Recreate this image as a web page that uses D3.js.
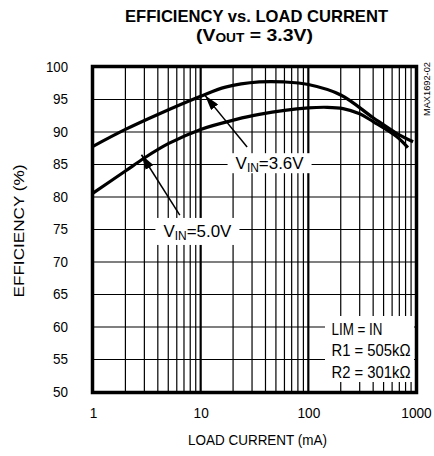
<!DOCTYPE html>
<html>
<head>
<meta charset="utf-8">
<script src="https://cdn.jsdelivr.net/npm/d3@7"></script>
<style>
  body { margin: 0; background: #fff; }
  text { font-family: "Liberation Sans", Arial, sans-serif; fill: #000; }
</style>
</head>
<body>
<div id="chart"></div>
<script>
// ---- data ----
const xTickValues = [1, 10, 100, 1000];
const yTickValues = [50, 55, 60, 65, 70, 75, 80, 85, 90, 95, 100];

// VIN = 3.6V (upper curve)
const vin36Load = [1, 2, 4, 10, 17, 35, 60, 100, 200, 400, 660, 940];
const vin36Eff  = [87.8, 90.4, 92.7, 95.5, 96.9, 97.7, 97.7, 97.3, 95.7, 92.2, 89.8, 88.5];

// VIN = 5.0V (lower curve)
const vin50Load = [1, 2, 3, 5, 10, 21, 35, 100, 150, 210, 300, 400, 660, 840];
const vin50Eff  = [80.6, 84.0, 86.0, 88.2, 90.4, 91.9, 92.7, 93.7, 93.8, 93.6, 92.8, 91.6, 89.3, 87.6];

// annotation anchors (data units): [tipX, tipY, tailX, tailY]
const arrow36 = [11, 95.6, 27, 87.7];
const arrow50 = [2.82, 86.5, 6.4, 77.2];

const notes = ["LIM = IN", "R1 = 505kΩ", "R2 = 301kΩ"];

const width = 434, height = 456;

const svg = d3.select("#chart")
    .append("svg")
    .attr("width", width)
    .attr("height", height);

const x = d3.scaleLog().domain([1, 1000]).range([93, 416]);
const y = d3.scaleLinear().domain([50, 100]).range([392, 67]);

// Titles
svg.append("text")
    .attr("x", 256.5)
    .attr("y", 21.5)
    .attr("text-anchor", "middle")
    .attr("textLength", 263)
    .attr("lengthAdjust", "spacingAndGlyphs")
    .style("font-size", "17px")
    .style("font-weight", "bold")
    .text("EFFICIENCY vs. LOAD CURRENT");

const t2 = svg.append("text")
    .attr("x", 254.5)
    .attr("y", 40.5)
    .attr("text-anchor", "middle")
    .attr("textLength", 117)
    .attr("lengthAdjust", "spacingAndGlyphs")
    .style("font-size", "17px")
    .style("font-weight", "bold");
t2.append("tspan").text("(V");
t2.append("tspan").attr("dy", 1).style("font-size", "12px").text("OUT");
t2.append("tspan").attr("dy", -1).text(" = 3.3V)");

// Grid lines
const grid = svg.append("g");
grid.selectAll(".hgrid")
    .data(yTickValues.slice(1, -1))
    .enter()
    .append("line")
    .attr("x1", x.range()[0])
    .attr("x2", x.range()[1])
    .attr("y1", d => y(d))
    .attr("y2", d => y(d))
    .attr("stroke", "#000")
    .attr("stroke-width", 1.2);

grid.selectAll(".vgrid")
    .data(x.ticks().filter(d => d > 1 && d < 1000))
    .enter()
    .append("line")
    .attr("x1", d => x(d))
    .attr("x2", d => x(d))
    .attr("y1", y.range()[1])
    .attr("y2", y.range()[0])
    .attr("stroke", "#000")
    .attr("stroke-width", d => (d === 10 || d === 100) ? 2.2 : 1.2);

// Curves
const line = d3.line()
    .x(d => x(d[0]))
    .y(d => y(d[1]))
    .curve(d3.curveCatmullRom.alpha(0.5));

[[vin36Load, vin36Eff], [vin50Load, vin50Eff]].forEach(([xs, ys]) => {
    svg.append("path")
        .attr("d", line(xs.map((v, i) => [v, ys[i]])))
        .attr("fill", "none")
        .attr("stroke", "#000")
        .attr("stroke-width", 3.2)
        .attr("stroke-linecap", "butt");
});

// Arrowheads
svg.append("defs").append("marker")
    .attr("id", "head")
    .attr("viewBox", "0 0 15 9")
    .attr("refX", 15)
    .attr("refY", 4.5)
    .attr("markerWidth", 15)
    .attr("markerHeight", 9)
    .attr("markerUnits", "userSpaceOnUse")
    .attr("orient", "auto")
    .append("path")
    .attr("d", "M0,0 L15,4.5 L0,9 Z")
    .attr("fill", "#000");

[arrow36, arrow50].forEach(a => {
    svg.append("line")
        .attr("x1", x(a[2]))
        .attr("y1", y(a[3]))
        .attr("x2", x(a[0]))
        .attr("y2", y(a[1]))
        .attr("stroke", "#000")
        .attr("stroke-width", 1.5)
        .attr("marker-end", "url(#head)");
});

// Curve labels with white boxes
function vinLabel(cx, cy, value, boxW, boxH) {
    svg.append("rect")
        .attr("x", cx - boxW / 2)
        .attr("y", cy - boxH / 2)
        .attr("width", boxW)
        .attr("height", boxH)
        .attr("fill", "#fff");
    const t = svg.append("text")
        .attr("x", cx)
        .attr("y", cy + 6)
        .attr("text-anchor", "middle")
        .attr("textLength", 68)
        .attr("lengthAdjust", "spacingAndGlyphs")
        .style("font-size", "17px");
    t.append("tspan").text("V");
    t.append("tspan").attr("dy", 3).style("font-size", "12px").text("IN");
    t.append("tspan").attr("dy", -3).text("=" + value);
}
vinLabel(x(Math.pow(10, 1.64)), y(85.2), "3.6V", 84, 20);
vinLabel(x(Math.pow(10, 0.97)), y(74.7), "5.0V", 84, 27);

// Notes box
svg.append("rect")
    .attr("x", 325)
    .attr("y", 316)
    .attr("width", 89)
    .attr("height", 66)
    .attr("fill", "#fff");
svg.selectAll(".note")
    .data(notes)
    .enter()
    .append("text")
    .attr("x", 331.5)
    .attr("y", (d, i) => 335 + i * 21.3)
    .attr("textLength", (d, i) => i === 0 ? 51 : 79)
    .attr("lengthAdjust", "spacingAndGlyphs")
    .style("font-size", "16px")
    .text(d => d);

// Frame
svg.append("rect")
    .attr("x", x.range()[0] - 0.5)
    .attr("y", y.range()[1] - 0.5)
    .attr("width", x.range()[1] - x.range()[0] + 1)
    .attr("height", y.range()[0] - y.range()[1] + 1)
    .attr("fill", "none")
    .attr("stroke", "#000")
    .attr("stroke-width", 3.5);

// Axes
const yAxis = svg.append("g")
    .attr("transform", `translate(${x.range()[0]},0)`)
    .call(d3.axisLeft(y).tickValues(yTickValues).tickSize(0).tickPadding(25));
yAxis.select(".domain").remove();
yAxis.selectAll("text")
    .attr("textLength", d => d === 100 ? 22 : 15)
    .attr("lengthAdjust", "spacingAndGlyphs")
    .style("font-family", "'Liberation Sans', Arial, sans-serif")
    .style("font-size", "14px");

const xAxis = svg.append("g")
    .attr("transform", `translate(0,${y.range()[0]})`)
    .call(d3.axisBottom(x).tickValues(xTickValues).tickFormat(d3.format("d")).tickSize(0).tickPadding(16));
xAxis.select(".domain").remove();
xAxis.selectAll("text")
    .attr("textLength", d => String(d).length * 7.6)
    .attr("lengthAdjust", "spacingAndGlyphs")
    .style("font-family", "'Liberation Sans', Arial, sans-serif")
    .style("font-size", "14px");

// Axis titles
svg.append("text")
    .attr("x", 257.5)
    .attr("y", 445)
    .attr("text-anchor", "middle")
    .attr("textLength", 139)
    .attr("lengthAdjust", "spacingAndGlyphs")
    .style("font-size", "14px")
    .text("LOAD CURRENT (mA)");

svg.append("text")
    .attr("transform", "translate(23.5,231) rotate(-90)")
    .attr("text-anchor", "middle")
    .attr("textLength", 133)
    .attr("lengthAdjust", "spacingAndGlyphs")
    .style("font-size", "14px")
    .text("EFFICIENCY (%)");

svg.append("text")
    .attr("transform", "translate(430,89) rotate(-90)")
    .attr("text-anchor", "middle")
    .attr("textLength", 54)
    .attr("lengthAdjust", "spacingAndGlyphs")
    .style("font-size", "9px")
    .text("MAX1692-02");
</script>
</body>
</html>
